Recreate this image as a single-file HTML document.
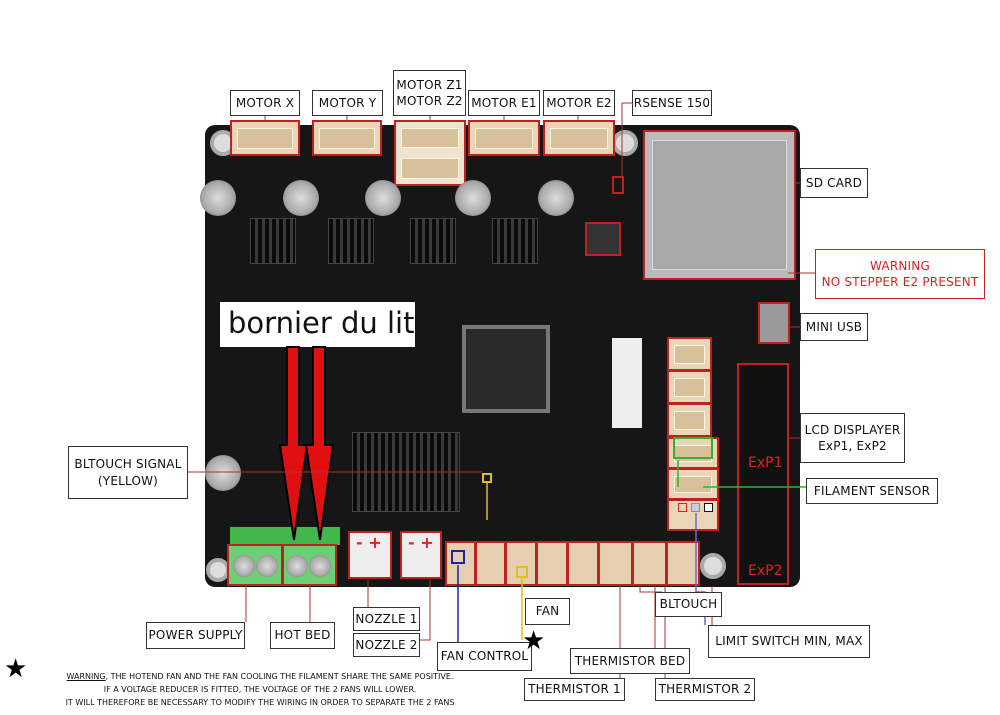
<!DOCTYPE html>
<html><head><meta charset="utf-8"><style>
body{margin:0;width:1000px;height:715px;background:#fff;position:relative;overflow:hidden;font-family:"DejaVu Sans","Liberation Sans",sans-serif}
div{position:absolute;box-sizing:border-box}
.lb{background:#fff;border:1.5px solid #333;color:#111;font-size:12px;text-align:center;line-height:1.35;display:flex;align-items:center;justify-content:center;white-space:nowrap;letter-spacing:0.2px}
.cn{background:#e9d6b8;border:2px solid #c02020}
.cn i{position:absolute;left:5px;right:5px;top:6px;bottom:5px;background:#d8c09a;border:1px solid #fff4e0}
.hs{background:#222;border:1px solid #444;background-image:repeating-linear-gradient(90deg,#0a0a0a 0 4px,#3a3a3a 4px 7px)}
.cap{border-radius:50%;background:radial-gradient(circle,#ddd 0,#aaa 60%,#555 100%)}
.hole{border-radius:50%;background:#ddd;border:4px solid #aaa}
.fc{background:#e4cfae;border:2px solid #c02020;top:541px;height:45px}
</style></head><body>
<!-- board -->
<div style="left:205px;top:125px;width:595px;height:462px;background:#161616;border-radius:10px"></div>
<div class="hole" style="left:210px;top:130px;width:26px;height:26px"></div>
<div class="hole" style="left:612px;top:130px;width:26px;height:26px"></div>
<div class="hole" style="left:206px;top:558px;width:24px;height:24px"></div>
<div class="hole" style="left:700px;top:553px;width:26px;height:26px"></div>
<!-- motor connectors -->
<div class="cn" style="left:230px;top:120px;width:70px;height:36px"><i></i></div>
<div class="cn" style="left:312px;top:120px;width:70px;height:36px"><i></i></div>
<div class="cn" style="left:394px;top:120px;width:72px;height:66px;background:#f0e4d0"><i style="bottom:36px"></i><i style="top:36px"></i></div>
<div class="cn" style="left:468px;top:120px;width:72px;height:36px"><i></i></div>
<div class="cn" style="left:543px;top:120px;width:72px;height:36px"><i></i></div>
<!-- caps -->
<div class="cap" style="left:200px;top:180px;width:36px;height:36px"></div>
<div class="cap" style="left:283px;top:180px;width:36px;height:36px"></div>
<div class="cap" style="left:365px;top:180px;width:36px;height:36px"></div>
<div class="cap" style="left:455px;top:180px;width:36px;height:36px"></div>
<div class="cap" style="left:538px;top:180px;width:36px;height:36px"></div>
<div class="cap" style="left:205px;top:455px;width:36px;height:36px"></div>
<!-- drivers heatsinks -->
<div class="hs" style="left:250px;top:218px;width:46px;height:46px"></div>
<div class="hs" style="left:328px;top:218px;width:46px;height:46px"></div>
<div class="hs" style="left:410px;top:218px;width:46px;height:46px"></div>
<div class="hs" style="left:492px;top:218px;width:46px;height:46px"></div>
<div class="hs" style="left:352px;top:432px;width:108px;height:80px"></div>
<!-- chip -->
<div style="left:462px;top:325px;width:88px;height:88px;background:#2a2a2a;border:4px solid #777"></div>
<div style="left:585px;top:222px;width:36px;height:34px;border:2px solid #c02020;background:#333"></div>
<div style="left:612px;top:176px;width:12px;height:18px;border:2px solid #c02020"></div>
<!-- SD card -->
<div style="left:643px;top:130px;width:153px;height:150px;background:#bbb;border:2px solid #c02020"></div>
<div style="left:652px;top:140px;width:135px;height:130px;background:#a8a8a8;border:1px solid #ddd"></div>
<div style="left:758px;top:302px;width:32px;height:42px;background:#999;border:2px solid #c02020"></div>
<!-- side connectors -->
<div style="left:612px;top:338px;width:30px;height:90px;background:#eee"></div>
<div class="cn" style="left:667px;top:337px;width:45px;height:34px"><i></i></div>
<div class="cn" style="left:667px;top:370px;width:45px;height:34px"><i></i></div>
<div class="cn" style="left:667px;top:403px;width:45px;height:34px"><i></i></div>
<div class="cn" style="left:667px;top:437px;width:52px;height:32px"><i></i></div>
<div class="cn" style="left:667px;top:468px;width:52px;height:32px"><i></i></div>
<div class="cn" style="left:667px;top:499px;width:52px;height:32px"></div>
<div style="left:673px;top:437px;width:40px;height:22px;border:2px solid #2db52d"></div>
<div style="left:678px;top:503px;width:9px;height:9px;border:1.5px solid #d22"></div>
<div style="left:691px;top:503px;width:9px;height:9px;border:1.5px solid #88a;background:#ccd"></div>
<div style="left:704px;top:503px;width:9px;height:9px;border:1.5px solid #111;background:#fff"></div>
<div style="left:737px;top:363px;width:52px;height:222px;border:2px solid #c02020;background:#111"></div>
<div style="left:748px;top:455px;color:#d22;font-size:14px">ExP1</div>
<div style="left:748px;top:563px;color:#d22;font-size:14px">ExP2</div>
<!-- bottom connectors -->
<div style="left:230px;top:527px;width:110px;height:18px;background:#42b84a"></div>
<div style="left:227px;top:544px;width:56px;height:42px;background:#6ccf74;border:2px solid #c02020"></div>
<div style="left:282px;top:544px;width:55px;height:42px;background:#6ccf74;border:2px solid #c02020"></div>
<div class="cap" style="left:233px;top:555px;width:22px;height:22px"></div>
<div class="cap" style="left:256px;top:555px;width:22px;height:22px"></div>
<div class="cap" style="left:286px;top:555px;width:22px;height:22px"></div>
<div class="cap" style="left:309px;top:555px;width:22px;height:22px"></div>
<div style="left:348px;top:531px;width:44px;height:48px;background:#eee;border:2px solid #c02020;color:#d22;font-size:16px;font-weight:bold;padding-left:6px">- +</div>
<div style="left:400px;top:531px;width:42px;height:48px;background:#eee;border:2px solid #c02020;color:#d22;font-size:16px;font-weight:bold;padding-left:6px">- +</div>
<div class="fc" style="left:445px;width:31px"></div>
<div class="fc" style="left:475px;width:31px"></div>
<div class="fc" style="left:505px;width:32px"></div>
<div class="fc" style="left:536px;width:32px"></div>
<div class="fc" style="left:567px;width:32px"></div>
<div class="fc" style="left:598px;width:35px"></div>
<div class="fc" style="left:632px;width:35px"></div>
<div class="fc" style="left:666px;width:34px"></div>
<div style="left:451px;top:550px;width:14px;height:14px;border:2px solid #2222a0"></div>
<div style="left:516px;top:566px;width:12px;height:12px;border:2px solid #e0c020"></div>
<div style="left:482px;top:473px;width:10px;height:10px;border:2px solid #e0c020"></div>
<!-- bornier & arrows -->
<div style="left:220px;top:302px;width:195px;height:45px;background:#fff;font-family:'DejaVu Sans',sans-serif;font-size:29px;color:#111;padding-left:8px;line-height:42px;white-space:nowrap">bornier du lit</div>
<svg style="position:absolute;left:0;top:0" width="1000" height="715">
<g fill="#e01010" stroke="#000" stroke-width="2">
<polygon points="287,347 299,347 299,445 307,445 294,540 280,445 287,445"/>
<polygon points="313,347 325,347 325,445 333,445 320,540 306,445 313,445"/>
</g>
<g stroke="#b03030" stroke-width="1" fill="none">
<path d="M265,115V120M347,115V120M430,115V120M504,115V120M578,115V120"/>
<path d="M632,103H622V176"/><path d="M796,183H800"/><path d="M788,273H815"/><path d="M790,327H800"/>
<path d="M789,438H800"/><path d="M188,472H482"/>
<path d="M246,586V622M310,586V622M368,580V607M430,580V640H420"/>
<path d="M620,586V678M655,586V648M640,586V592H662"/><path d="M665,586V678"/>
<path d="M712,586V625"/>
</g>
<path d="M703,487H806M678,460V487" stroke="#2db52d" stroke-width="1.5" fill="none"/>
<path d="M696,513V592H705V625" stroke="#6a6ac0" stroke-width="1.5" fill="none"/>
<path d="M458,565V642" stroke="#2222a0" stroke-width="1.5"/>
<path d="M522,578V640M487,483V520" stroke="#d8c020" stroke-width="1.5"/>
</svg>
<!-- labels -->
<div class="lb" style="left:230px;top:90px;width:70px;height:26px">MOTOR X</div>
<div class="lb" style="left:312px;top:90px;width:71px;height:26px">MOTOR Y</div>
<div class="lb" style="left:393px;top:70px;width:73px;height:46px">MOTOR Z1<br>MOTOR Z2</div>
<div class="lb" style="left:468px;top:90px;width:72px;height:26px">MOTOR E1</div>
<div class="lb" style="left:543px;top:90px;width:72px;height:26px">MOTOR E2</div>
<div class="lb" style="left:632px;top:90px;width:80px;height:26px">RSENSE 150</div>
<div class="lb" style="left:800px;top:168px;width:68px;height:30px">SD CARD</div>
<div class="lb" style="left:815px;top:249px;width:170px;height:50px;color:#d22;border-color:#c22">WARNING<br>NO STEPPER E2 PRESENT</div>
<div class="lb" style="left:800px;top:313px;width:68px;height:28px">MINI USB</div>
<div class="lb" style="left:800px;top:413px;width:105px;height:50px">LCD DISPLAYER<br>ExP1, ExP2</div>
<div class="lb" style="left:806px;top:478px;width:132px;height:26px">FILAMENT SENSOR</div>
<div class="lb" style="left:68px;top:446px;width:120px;height:53px">BLTOUCH SIGNAL<br>(YELLOW)</div>
<div class="lb" style="left:146px;top:622px;width:99px;height:27px">POWER SUPPLY</div>
<div class="lb" style="left:270px;top:622px;width:65px;height:27px">HOT BED</div>
<div class="lb" style="left:353px;top:607px;width:67px;height:24px">NOZZLE 1</div>
<div class="lb" style="left:353px;top:633px;width:67px;height:24px">NOZZLE 2</div>
<div class="lb" style="left:437px;top:642px;width:95px;height:29px">FAN CONTROL</div>
<div class="lb" style="left:525px;top:598px;width:45px;height:27px">FAN</div>
<div class="lb" style="left:570px;top:648px;width:120px;height:26px">THERMISTOR BED</div>
<div class="lb" style="left:524px;top:678px;width:101px;height:23px">THERMISTOR 1</div>
<div class="lb" style="left:655px;top:678px;width:100px;height:23px">THERMISTOR 2</div>
<div class="lb" style="left:655px;top:592px;width:67px;height:25px">BLTOUCH</div>
<div class="lb" style="left:708px;top:625px;width:162px;height:33px">LIMIT SWITCH MIN, MAX</div>
<div style="left:522px;top:626px;font-size:26px;color:#000">★</div>
<div style="left:4px;top:654px;font-size:26px;color:#000">★</div>
<div style="left:25px;top:670px;width:470px;font-size:8px;color:#111;text-align:center;line-height:13px;white-space:nowrap"><u>WARNING</u>, THE HOTEND FAN AND THE FAN COOLING THE FILAMENT SHARE THE SAME POSITIVE.<br>IF A VOLTAGE REDUCER IS FITTED, THE VOLTAGE OF THE 2 FANS WILL LOWER.<br>IT WILL THEREFORE BE NECESSARY TO MODIFY THE WIRING IN ORDER TO SEPARATE THE 2 FANS</div>
</body></html>
